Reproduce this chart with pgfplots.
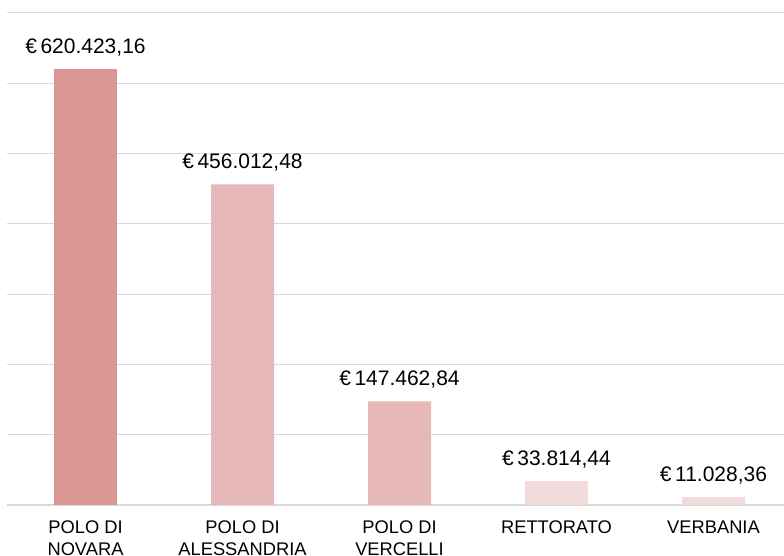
\documentclass[border=0pt]{standalone}
\usepackage{pgfplots}
\pgfplotsset{compat=1.18}
\usepackage{fontspec}
\setmainfont{Liberation Sans}
\definecolor{barA}{HTML}{D99694}
\definecolor{barB}{HTML}{E6B9B8}
\definecolor{barC}{HTML}{F2DCDB}
\definecolor{gridc}{HTML}{D9D9D9}
\begin{document}
\begin{tikzpicture}
\begin{axis}[
  at={(0pt,0pt)}, anchor=south west,
  scale only axis, width=785pt, height=492pt,
  xmin=-0.5, xmax=4.5, ymin=0, ymax=700000,
  ytick={0,100000,...,700000}, yticklabels={},
  ymajorgrids, grid style={gridc, line width=1pt},
  axis x line*=bottom, axis y line*=left,
  x axis line style={gridc, line width=1.5pt},
  y axis line style={draw=none},
  major tick length=0pt,
  xtick={0,1,2,3,4},
  xticklabels={{POLO DI\\NOVARA},{POLO DI\\ALESSANDRIA},{POLO DI\\VERCELLI},{RETTORATO},{VERBANIA}},
  xticklabel style={align=center, anchor=north, inner sep=0pt, yshift=-16pt, font=\fontsize{18.3}{21.6}\selectfont, text=black},
  point meta=explicit symbolic,
  nodes near coords,
  nodes near coords style={anchor=base, inner sep=0pt, yshift=15.5pt, font=\fontsize{21}{24}\selectfont, text=black},
  clip=false,
]
\addplot[ybar, bar width=63pt, fill=barA, draw=none] coordinates {
  (0,620423.16) [{€\,620.423,16}]
};
\addplot[ybar, bar width=63pt, fill=barB, draw=none] coordinates {
  (1,456012.48) [{€\,456.012,48}]
  (2,147462.84) [{€\,147.462,84}]
};
\addplot[ybar, bar width=63pt, fill=barC, draw=none] coordinates {
  (3,33814.44) [{€\,33.814,44}]
  (4,11028.36) [{€\,11.028,36}]
};
\end{axis}
\pgfresetboundingbox
\useasboundingbox (-7pt,-51pt) rectangle (777pt,505pt);
\end{tikzpicture}
\end{document}
